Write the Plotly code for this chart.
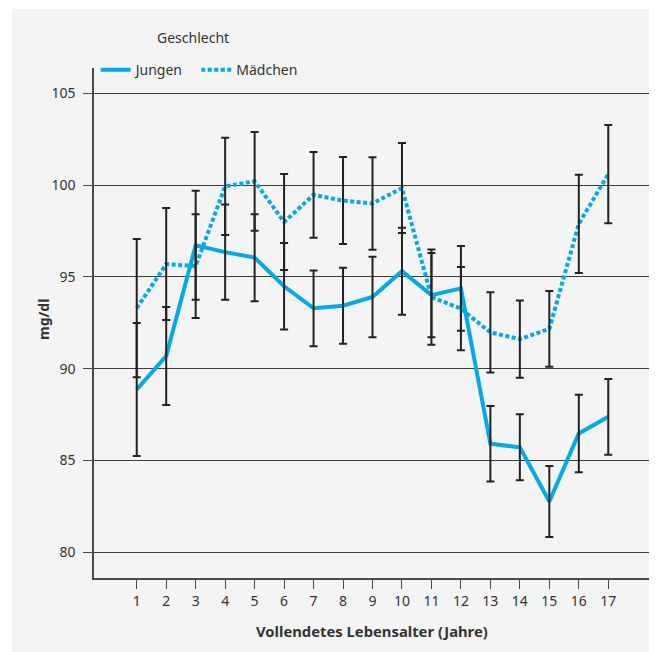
import plotly.graph_objects as go

ages = list(range(1, 18))
age_labels = [str(a) for a in ages]

jungen = [88.87, 90.69, 96.72, 96.35, 96.05, 94.49, 93.29, 93.43, 93.91, 95.31,
          94.01, 94.38, 85.91, 85.72, 82.77, 86.47, 87.38]
jungen_err = [3.62, 2.67, 2.97, 2.60, 2.37, 2.36, 2.06, 2.07, 2.19, 2.37,
              2.29, 2.31, 2.06, 1.80, 1.93, 2.11, 2.06]

maedchen = [93.30, 95.70, 95.59, 99.93, 100.21, 97.99, 99.47, 99.16, 99.00, 99.84,
            93.90, 93.27, 91.98, 91.61, 92.17, 97.89, 100.60]
maedchen_err = [3.76, 3.05, 2.83, 2.65, 2.69, 2.61, 2.33, 2.37, 2.52, 2.45,
                2.60, 2.27, 2.19, 2.10, 2.06, 2.68, 2.67]

y_ticks = [80, 85, 90, 95, 100, 105]

BLUE = "#04a9e6"
FONT = "Noto Sans"
TXT = "#333333"

W, H = 649, 644
L, R, T, B = 86, 6, 60, 74
PW, PH = W - L - R, H - T - B

fig = go.Figure()

fig.add_trace(go.Scatter(x=ages, y=jungen, mode="lines", name="Jungen\u00a0\u00a0",
                         line=dict(color=BLUE, width=4)))
fig.add_trace(go.Scatter(x=ages, y=maedchen, mode="lines", name="Mädchen",
                         line=dict(color=BLUE, width=4, dash="4px,2.5px")))

for vals, errs in ((jungen, jungen_err), (maedchen, maedchen_err)):
    fig.add_trace(go.Scatter(
        x=ages, y=vals, mode="markers", showlegend=False, hoverinfo="skip",
        marker=dict(size=1, color="rgba(0,0,0,0)"),
        error_y=dict(type="data", array=errs, visible=True,
                     color="#222222", thickness=2, width=4)))


def px_x(px):
    return (px - L) / PW


def px_y(py):
    return (T + PH - py) / PH


fig.update_layout(
    width=W, height=H,
    margin=dict(l=L, r=R, t=T, b=B),
    paper_bgcolor="white",
    plot_bgcolor="#f4f4f4",
    font=dict(family=FONT, size=14, color=TXT),
    showlegend=True,
    legend=dict(orientation="h", x=0.003, xanchor="left", y=0.996, yanchor="middle",
                bgcolor="rgba(0,0,0,0)", font=dict(family=FONT, size=14, color=TXT),
                itemwidth=30, traceorder="normal"),
    shapes=[dict(type="rect", xref="paper", yref="paper", layer="below",
                 x0=px_x(4), x1=px_x(W + 2), y0=px_y(H + 2), y1=px_y(1),
                 fillcolor="#f4f4f4", line=dict(width=0))],
    annotations=[
        dict(text="Geschlecht", xref="paper", yref="paper", x=px_x(185), y=px_y(30),
             xanchor="center", yanchor="middle",
             showarrow=False, font=dict(family=FONT, size=14, color=TXT)),
        dict(text="<b>mg/dl</b>", xref="paper", yref="paper", x=px_x(35), y=px_y(312),
             xanchor="center", yanchor="middle",
             textangle=-90, showarrow=False, font=dict(family=FONT, size=14, color=TXT)),
        dict(text="<b>Vollendetes Lebensalter (Jahre)</b>", xref="paper", yref="paper",
             x=px_x(364), y=px_y(623), xanchor="center", yanchor="middle", showarrow=False,
             font=dict(family=FONT, size=14.8, color=TXT)),
    ],
)

fig.update_xaxes(
    range=[-0.45, 18.45], tickmode="array", tickvals=ages, ticktext=age_labels,
    showgrid=False, zeroline=False, showline=True, linecolor="#4a4a4a", linewidth=1.5,
    ticks="outside", ticklen=9, tickwidth=1.3, tickcolor="#4a4a4a",
    tickfont=dict(family=FONT, size=14, color=TXT),
)
fig.update_yaxes(
    range=[78.6, 106.38], tickmode="array", tickvals=y_ticks,
    showgrid=True, gridcolor="#3c3c3c", gridwidth=1.3, zeroline=False,
    showline=True, linecolor="#4a4a4a", linewidth=1.5,
    ticks="outside", ticklen=9, tickwidth=1.3, tickcolor="#4a4a4a",
    ticklabelstandoff=5,
    tickfont=dict(family=FONT, size=14, color=TXT),
)

fig.write_html("out.html")
